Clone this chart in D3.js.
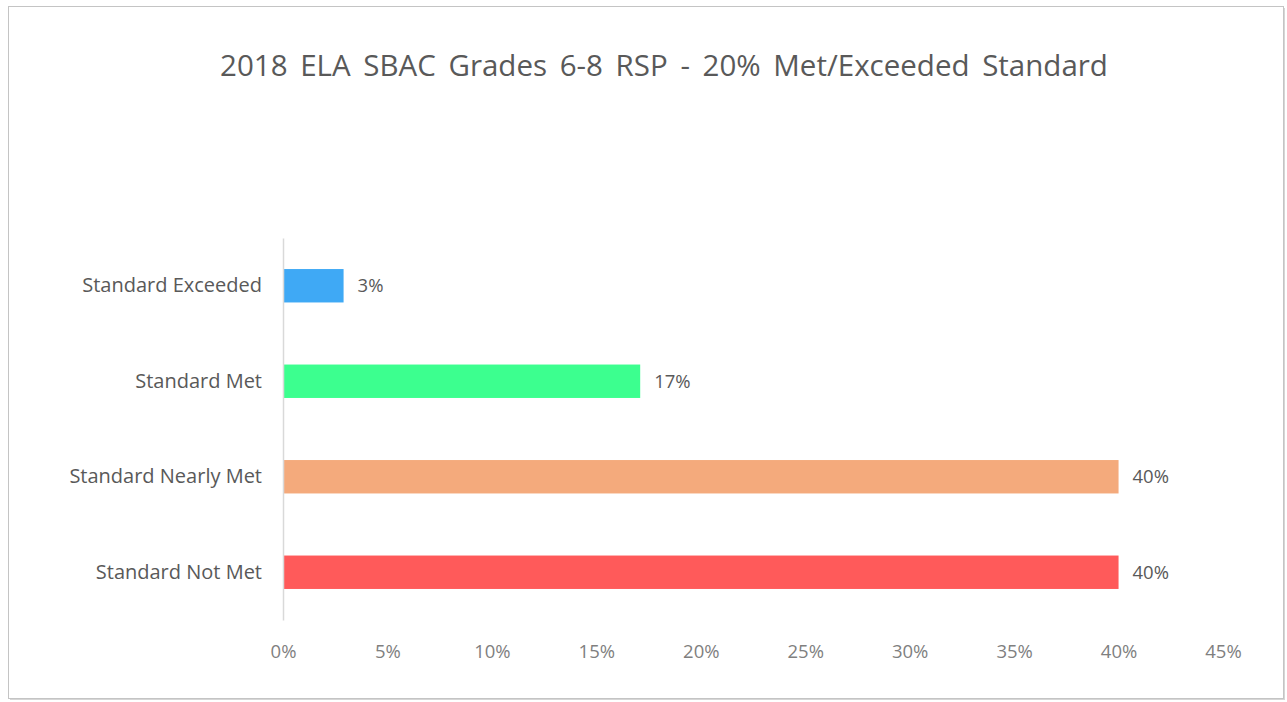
<!DOCTYPE html>
<html>
<head>
<meta charset="utf-8">
<script src="https://cdn.jsdelivr.net/npm/d3@7"></script>
<style>
  html, body { margin: 0; padding: 0; background: #fff; overflow: hidden; }
  svg { display: block; }
  svg text { font-family: "Open Sans", Lato, sans-serif; }
</style>
</head>
<body>
<svg id="chart" width="1287" height="702"></svg>
<script>
// chart data
const categories = ["Standard Exceeded", "Standard Met", "Standard Nearly Met", "Standard Not Met"];
const percents = [2.9, 17.1, 40.0, 40.0];
const barColors = ["#3fa9f5", "#3cff8f", "#f4aa7c", "#ff5a5a"];
const tickValues = [0, 5, 10, 15, 20, 25, 30, 35, 40, 45];
const title = "2018 ELA SBAC Grades 6-8 RSP - 20% Met/Exceeded Standard";

const svg = d3.select("svg#chart");
const width = 1287;
const height = 702;

// outer frame, a soft shadow drawn as a second offset rect
svg.append("rect")
  .attr("x", 10).attr("y", 8)
  .attr("width", 1275).attr("height", 692)
  .attr("fill", "#d6d6d6");

svg.append("rect")
  .attr("x", 8.5).attr("y", 6.5)
  .attr("width", 1275).attr("height", 692)
  .attr("fill", "#fff")
  .attr("stroke", "#c4c4c4");

// plot area: axis line at x=283, from y=238 to y=620
const margin = { top: 238, right: 64, bottom: 82, left: 283 };
const innerHeight = height - margin.top - margin.bottom;

const xScale = d3.scaleLinear()
  .domain([0, 45])
  .range([0, 940]);

const yScale = d3.scaleBand()
  .domain(categories)
  .range([0, innerHeight])
  .paddingInner(0.65)
  .paddingOuter(0.325);

const g = svg.append("g")
  .attr("transform", `translate(${margin.left},${margin.top})`);

// title
svg.append("text")
  .attr("x", 664)
  .attr("y", 76)
  .attr("text-anchor", "middle")
  .attr("fill", "#595959")
  .style("font-size", "29.5px")
  .style("word-spacing", "5px")
  .text(title);

// bars
g.selectAll("rect.bar")
  .data(categories)
  .enter()
  .append("rect")
  .attr("class", "bar")
  .attr("x", 0)
  .attr("y", d => yScale(d))
  .attr("width", (d, i) => xScale(percents[i]))
  .attr("height", yScale.bandwidth())
  .attr("fill", (d, i) => barColors[i]);

// data labels
g.selectAll("text.value")
  .data(categories)
  .enter()
  .append("text")
  .attr("class", "value")
  .attr("x", (d, i) => xScale(percents[i]) + 14)
  .attr("y", d => yScale(d) + yScale.bandwidth() / 2)
  .attr("dy", "0.35em")
  .attr("fill", "#595959")
  .style("font-size", "18.5px")
  .text((d, i) => Math.round(percents[i]) + "%");

// y axis: line + category labels
const yAxis = g.append("g")
  .call(d3.axisLeft(yScale).tickSize(0).tickPadding(21));
yAxis.select(".domain").attr("stroke", "#d9d9d9").attr("stroke-width", 1.5);
yAxis.selectAll("text")
  .attr("fill", "#595959")
  .style("font-size", "20px")
  .style("font-family", "'Open Sans', Lato, sans-serif");

// x axis: labels only
const xAxis = g.append("g")
  .attr("transform", `translate(0,${innerHeight})`)
  .call(d3.axisBottom(xScale).tickValues(tickValues).tickSize(0).tickPadding(25)
    .tickFormat(d => d + "%"));
xAxis.select(".domain").remove();
xAxis.selectAll("text")
  .attr("fill", "#7f7f7f")
  .style("font-size", "18.5px")
  .style("font-family", "'Open Sans', Lato, sans-serif");
</script>
</body>
</html>
